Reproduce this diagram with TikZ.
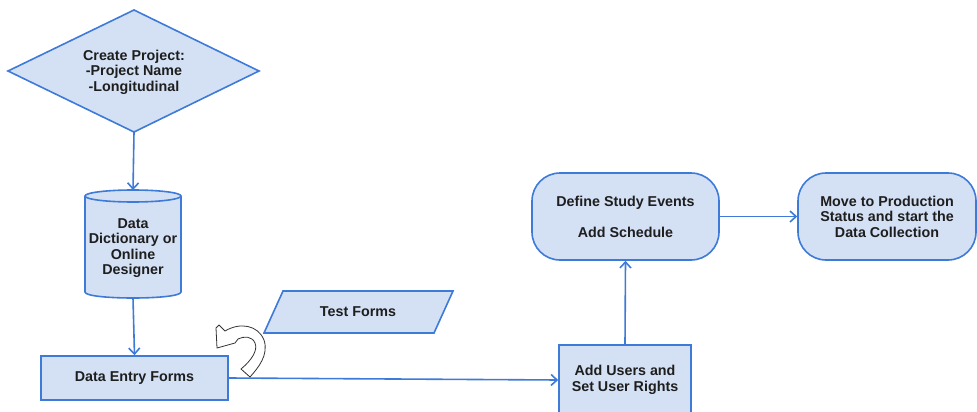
\documentclass[tikz,border=0pt]{standalone}
\usepackage{fontspec}
\setmainfont{Liberation Sans}
\usetikzlibrary{shapes.geometric,arrows.meta}
\definecolor{bstroke}{RGB}{62,122,216}
\definecolor{bfill}{RGB}{212,225,245}
\definecolor{txt}{RGB}{30,30,30}
\newcommand{\lbl}{\fontsize{14.3pt}{15.5pt}\bfseries\selectfont}
\begin{document}
\begin{tikzpicture}[x=1pt,y=-1pt,
  shp/.style={draw=bstroke, fill=bfill, line width=1.6pt, text=txt, font=\lbl, align=center, inner sep=0pt},
  lbltext/.style={text=txt, font=\lbl, align=center, inner sep=0pt},
  conn/.style={draw=bstroke, line width=1.6pt, -{Straight Barb[length=6pt,width=11pt]}},
  plain/.style={draw=bstroke, line width=1.6pt},
  roundbox/.style={shp, rounded corners=28pt, minimum width=187pt, minimum height=87pt}]
\useasboundingbox (0,0) rectangle (977,412);
\clip (0,0) rectangle (977,412);

% diamond
\coordinate (cpS) at (134,132);
\draw[plain, fill=bfill] (8,71) -- (134,10) -- (259,71) -- (cpS) -- cycle;
\node[lbltext] (cp) at (134,72) {Create Project:\\-Project Name\\-Longitudinal};

% cylinder
\coordinate (ddtop) at (133,190);
\coordinate (ddbot) at (133,298);
\fill[bfill] (85,196) -- (85,292) .. controls (85,300) and (181,300) .. (181,292) -- (181,196) -- cycle;
\draw[plain] (85,196) -- (85,292) .. controls (85,300) and (181,300) .. (181,292) -- (181,196);
\draw[plain, fill=bfill] (133,196) ellipse [x radius=48, y radius=6];
\node[lbltext] (dd) at (133,248) {Data\\Dictionary or\\Online\\Designer};

% data entry forms
\node[shp, minimum width=187pt, minimum height=44pt] (def) at (134.5,378) {Data Entry Forms};

% test forms parallelogram
\draw[plain, fill=bfill] (264,333) -- (283,291) -- (453,291) -- (434,333) -- cycle;
\node[lbltext] (tf) at (358,312) {Test Forms};

% add users
\node[shp, minimum width=132pt, minimum height=70pt] (au) at (625,380) {Add Users and\\Set User Rights};

% rounded boxes
\node[roundbox] (dse) at (625.5,216.5) {Define Study Events\\[15.5pt]Add Schedule};
\node[roundbox, minimum width=178pt] (mtp) at (887,216.5) {Move to Production\\Status and start the\\Data Collection};

% connectors
\draw[conn] (cpS) -- (ddtop);
\draw[conn] (ddbot) -- (def.north);
\draw[conn] (def.east) -- (au.west);
\draw[conn] (au.north) -- (dse.south);
\draw[conn] (dse.east) -- (mtp.west);

% curved hollow arrow
\draw[black!80, fill=white, line width=0.8pt, line join=round]
  (219,325) -- (225,331) .. controls (240,322) and (258,325) .. (264,340)
  .. controls (269,355) and (258,368) .. (250,377) -- (241,369)
  .. controls (252,360) and (258,350) .. (255,343)
  .. controls (252,336) and (244,336) .. (238,339)
  -- (235,343) -- (217,348) -- (216,328) -- cycle;
\end{tikzpicture}
\end{document}
